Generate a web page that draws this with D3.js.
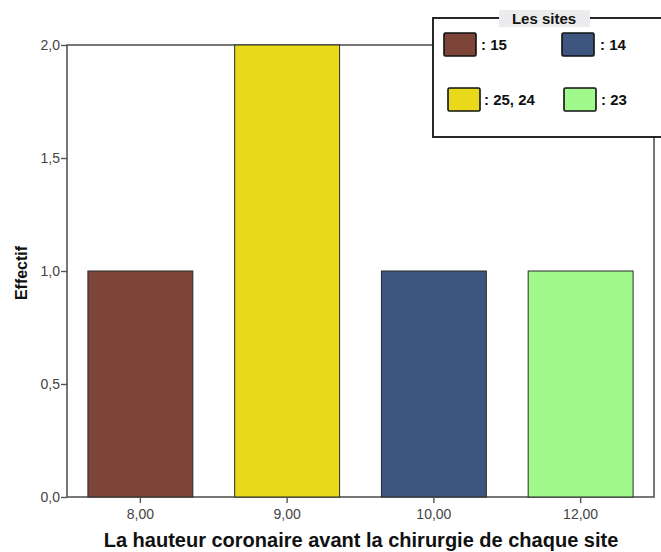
<!DOCTYPE html>
<html>
<head>
<meta charset="utf-8">
<script src="https://cdn.jsdelivr.net/npm/d3@7"></script>
<style>
  html, body { margin: 0; padding: 0; background: #fff; }
  svg { display: block; font-family: "Liberation Sans", Arial, sans-serif; }
</style>
</head>
<body>
<svg id="chart" width="661" height="552"></svg>
<script>
// Bar chart data: coronal height before surgery, count per value, coloured by site
const categories = ["8,00", "9,00", "10,00", "12,00"];
const counts = [1, 2, 1, 1];
const barColors = ["#7c4538", "#e8da1a", "#3e5580", "#a1f88b"];
const yTicks = [0, 0.5, 1.0, 1.5, 2.0];
const legendLabels = [": 15", ": 14", ": 25, 24", ": 23"];
const legendColors = ["#7c4538", "#3e5580", "#e8da1a", "#a1f88b"];

const svg = d3.select("#chart");
const margin = { left: 67, right: 7, top: 45, bottom: 55 };
const W = 661, H = 552;
const x0 = margin.left, x1 = W - margin.right;
const y0 = H - margin.bottom, y1 = margin.top;

const x = d3.scaleBand().domain(categories).range([x0, x1]).paddingInner(0.285).paddingOuter(0.1425);
const y = d3.scaleLinear().domain([0, 2]).range([y0, y1]);

const fmt = d => d.toFixed(1).replace(".", ",");

// Plot frame
svg.append("rect")
  .attr("x", x0).attr("y", y1)
  .attr("width", x1 - x0).attr("height", y0 - y1)
  .attr("fill", "#fff").attr("stroke", "#555").attr("stroke-width", 1.6);

// Bars
svg.append("g").selectAll("rect")
  .data(counts)
  .join("rect")
  .attr("x", (d, i) => x(categories[i]))
  .attr("y", d => y(d))
  .attr("width", x.bandwidth())
  .attr("height", d => y(0) - y(d))
  .attr("fill", (d, i) => barColors[i])
  .attr("stroke", "#2a2a2a")
  .attr("stroke-width", 1);

// Y axis
const yAxis = d3.axisLeft(y).tickValues(yTicks).tickFormat(fmt).tickSize(6).tickPadding(1);
const gy = svg.append("g").attr("transform", `translate(${x0},0)`).call(yAxis);
gy.select(".domain").remove();
gy.selectAll(".tick line").attr("stroke", "#555").attr("stroke-width", 1.4);
gy.selectAll(".tick text").attr("fill", "#444").attr("font-size", 14).attr("font-family", "Liberation Sans, Arial, sans-serif");

// X axis
const xAxis = d3.axisBottom(x).tickSize(6).tickPadding(6);
const gx = svg.append("g").attr("transform", `translate(0,${y0})`).call(xAxis);
gx.select(".domain").remove();
gx.selectAll(".tick line").attr("stroke", "#555").attr("stroke-width", 1.4);
gx.selectAll(".tick text").attr("fill", "#444").attr("font-size", 14).attr("font-family", "Liberation Sans, Arial, sans-serif");

// Axis titles
svg.append("text")
  .attr("x", 361).attr("y", 547)
  .attr("text-anchor", "middle")
  .attr("font-size", 20).attr("font-weight", "bold").attr("fill", "#111")
  .text("La hauteur coronaire avant la chirurgie de chaque site");

svg.append("text")
  .attr("transform", "translate(27,273) rotate(-90)")
  .attr("text-anchor", "middle")
  .attr("font-size", 16).attr("font-weight", "bold").attr("fill", "#111")
  .text("Effectif");

// Legend
const lg = svg.append("g");
lg.append("rect")
  .attr("x", 433).attr("y", 18)
  .attr("width", 240).attr("height", 119)
  .attr("fill", "#fff").attr("stroke", "#111").attr("stroke-width", 1.8);
lg.append("rect")
  .attr("x", 499).attr("y", 10).attr("width", 91).attr("height", 17)
  .attr("fill", "#ececee");
lg.append("text")
  .attr("x", 544).attr("y", 24)
  .attr("text-anchor", "middle")
  .attr("font-size", 15).attr("font-weight", "bold").attr("fill", "#111")
  .text("Les sites");

const legendPos = [
  { sx: 444, sy: 33, tx: 481, ty: 50 },
  { sx: 562, sy: 33, tx: 600, ty: 50 },
  { sx: 448, sy: 88, tx: 484, ty: 105 },
  { sx: 564, sy: 88, tx: 601, ty: 105 }
];
legendLabels.forEach((lab, i) => {
  const p = legendPos[i];
  lg.append("rect")
    .attr("x", p.sx).attr("y", p.sy).attr("width", 32).attr("height", 23)
    .attr("rx", 1.5)
    .attr("fill", legendColors[i]).attr("stroke", "#111").attr("stroke-width", 1.6);
  lg.append("text")
    .attr("x", p.tx).attr("y", p.ty)
    .attr("font-size", 15).attr("font-weight", "bold").attr("fill", "#111")
    .text(lab);
});
</script>
</body>
</html>
